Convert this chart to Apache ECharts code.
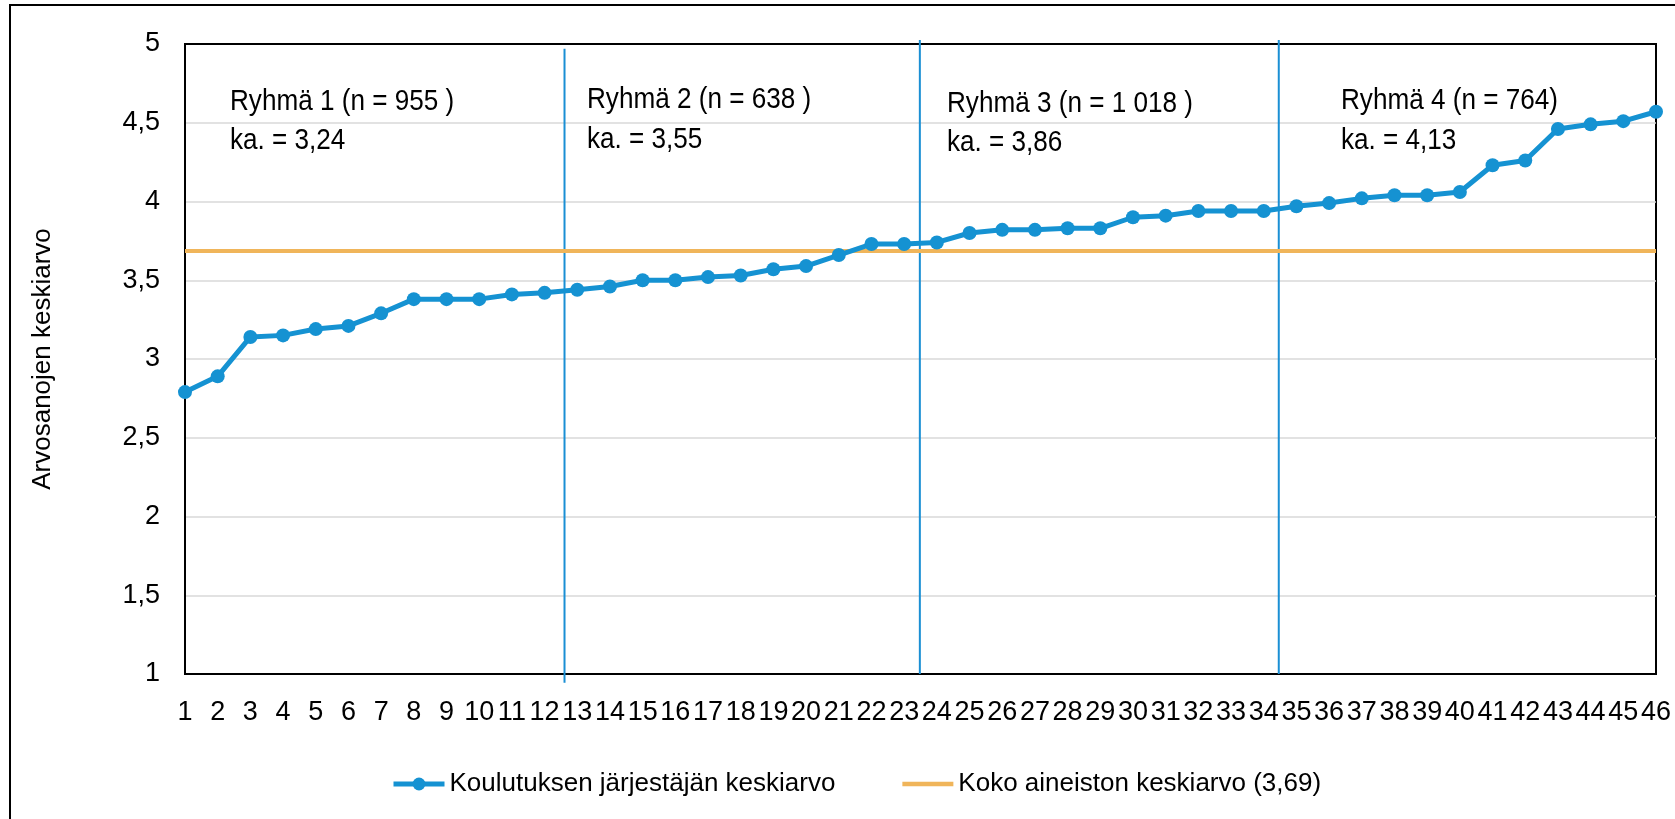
<!DOCTYPE html>
<html>
<head>
<meta charset="utf-8">
<title>Arvosanojen keskiarvo</title>
<script src="https://cdn.jsdelivr.net/npm/echarts@6/dist/echarts.min.js"></script>
<style>
  html, body { margin: 0; padding: 0; background: #fff; }
  #chart { width: 1675px; height: 819px; }
</style>
</head>
<body>
<div id="chart"></div>
<script>
// ====== data ======
const categories = ['1','2','3','4','5','6','7','8','9','10','11','12','13','14','15','16',
  '17','18','19','20','21','22','23','24','25','26','27','28','29','30','31','32','33',
  '34','35','36','37','38','39','40','41','42','43','44','45','46'];

const providerMeans = [2.79, 2.89, 3.14, 3.15, 3.19, 3.21, 3.29, 3.38, 3.38, 3.38, 3.41, 3.42,
  3.44, 3.46, 3.50, 3.50, 3.52, 3.53, 3.57, 3.59, 3.66, 3.73, 3.73, 3.74, 3.80, 3.82,
  3.82, 3.83, 3.83, 3.90, 3.91, 3.94, 3.94, 3.94, 3.97, 3.99, 4.02, 4.04, 4.04, 4.06,
  4.23, 4.26, 4.46, 4.49, 4.51, 4.57];

const overallMean = 3.69;

// ryhmien rajat: kohta asteikolla 1..46, viiva yFrom -> yTo
const dividerX = [12.61, 23.48, 34.46];
const dividerYFrom = [0.945, 1, 1];
const dividerYTo = [4.97, 5.025, 5.025];

const groupTitles = ['Ryhmä 1 (n = 955 )', 'Ryhmä 2 (n = 638 )', 'Ryhmä 3 (n = 1 018 )', 'Ryhmä 4 (n = 764)'];
const groupMeans = ['ka. = 3,24', 'ka. = 3,55', 'ka. = 3,86', 'ka. = 4,13'];

const seriesNames = ['Koulutuksen järjestäjän keskiarvo', 'Koko aineiston keskiarvo (3,69)'];

// ====== styles ======
const FONT = "'Liberation Sans', Arial, sans-serif";
const BLUE = '#1592D2';
const ORANGE = '#F0B55A';

const chart = echarts.init(document.getElementById('chart'));

// annotation text positions (px): x, title centre y, mean centre y
const textPos = [[230, 102, 141], [587, 100, 139.5], [947, 104, 143], [1341, 101, 141]];
const groupText = [];
groupTitles.forEach((t, i) => {
  [t, groupMeans[i]].forEach((s, j) => {
    groupText.push({
      type: 'text',
      x: textPos[i][0],
      y: textPos[i][j + 1],
      scaleX: 0.9,
      silent: true,
      style: { text: s, font: '29px ' + FONT, fill: '#000', align: 'left', verticalAlign: 'middle' }
    });
  });
});

const dividerSeries = dividerX.map((x, i) => ({
  type: 'line',
  xAxisIndex: 1,
  silent: true,
  clip: false,
  symbol: 'none',
  lineStyle: { color: '#1A8FD4', width: 2 },
  data: [[x, dividerYFrom[i]], [x, dividerYTo[i]]],
  z: 1
}));

const option = {
  backgroundColor: '#fff',
  animation: false,
  textStyle: { fontFamily: FONT },
  grid: {
    left: 185, right: 19, top: 44, bottom: 145,
    show: true, borderColor: '#000', borderWidth: 2
  },
  legend: {
    top: 766,
    left: 386,
    itemWidth: 51,
    itemHeight: 16,
    itemGap: 67,
    textStyle: { fontSize: 26, color: '#000', fontFamily: FONT },
    data: [
      { name: seriesNames[0], lineStyle: { width: 5, color: BLUE } },
      { name: seriesNames[1], icon: 'path://M0,0L51,0L51,4.5L0,4.5Z', itemStyle: { color: ORANGE } }
    ]
  },
  xAxis: [{
    type: 'category',
    data: categories,
    boundaryGap: false,
    axisLine: { lineStyle: { color: '#000', width: 2 } },
    axisTick: { show: false },
    axisLabel: { interval: 0, color: '#000', fontSize: 27, margin: 25, fontFamily: FONT },
    splitLine: { show: false }
  }, {
    type: 'value',
    min: 1, max: 46,
    show: false
  }],
  yAxis: {
    type: 'value',
    min: 1, max: 5, interval: 0.5,
    name: 'Arvosanojen keskiarvo',
    nameLocation: 'middle',
    nameGap: 129,
    nameTextStyle: { fontSize: 26, color: '#000', fontFamily: FONT },
    axisLine: { show: true, lineStyle: { color: '#000', width: 2 } },
    axisTick: { show: false },
    axisLabel: {
      color: '#000', fontSize: 27, margin: 25, fontFamily: FONT,
      formatter: v => String(v).replace('.', ',')
    },
    splitLine: { showMaxLine: false, showMinLine: false, lineStyle: { color: '#D9D9D9', width: 1.5 } }
  },
  graphic: [{
    type: 'rect',
    shape: { x: 10, y: 5, width: 1700, height: 900 },
    style: { fill: 'none', stroke: '#000', lineWidth: 2 },
    silent: true
  }].concat(groupText),
  series: [{
    name: seriesNames[0],
    type: 'line',
    data: providerMeans,
    symbol: 'circle',
    symbolSize: 14,
    lineStyle: { color: BLUE, width: 5 },
    itemStyle: { color: BLUE },
    z: 5
  }, {
    name: seriesNames[1],
    type: 'line',
    data: [],
    symbol: 'none',
    lineStyle: { color: ORANGE, width: 4 },
    itemStyle: { color: ORANGE },
    markLine: {
      silent: true,
      symbol: 'none',
      label: { show: false },
      lineStyle: { color: ORANGE, width: 4, type: 'solid' },
      data: [{ yAxis: overallMean }]
    },
    z: 3
  }].concat(dividerSeries)
};

chart.setOption(option);
window.addEventListener('resize', () => chart.resize());
</script>
</body>
</html>
